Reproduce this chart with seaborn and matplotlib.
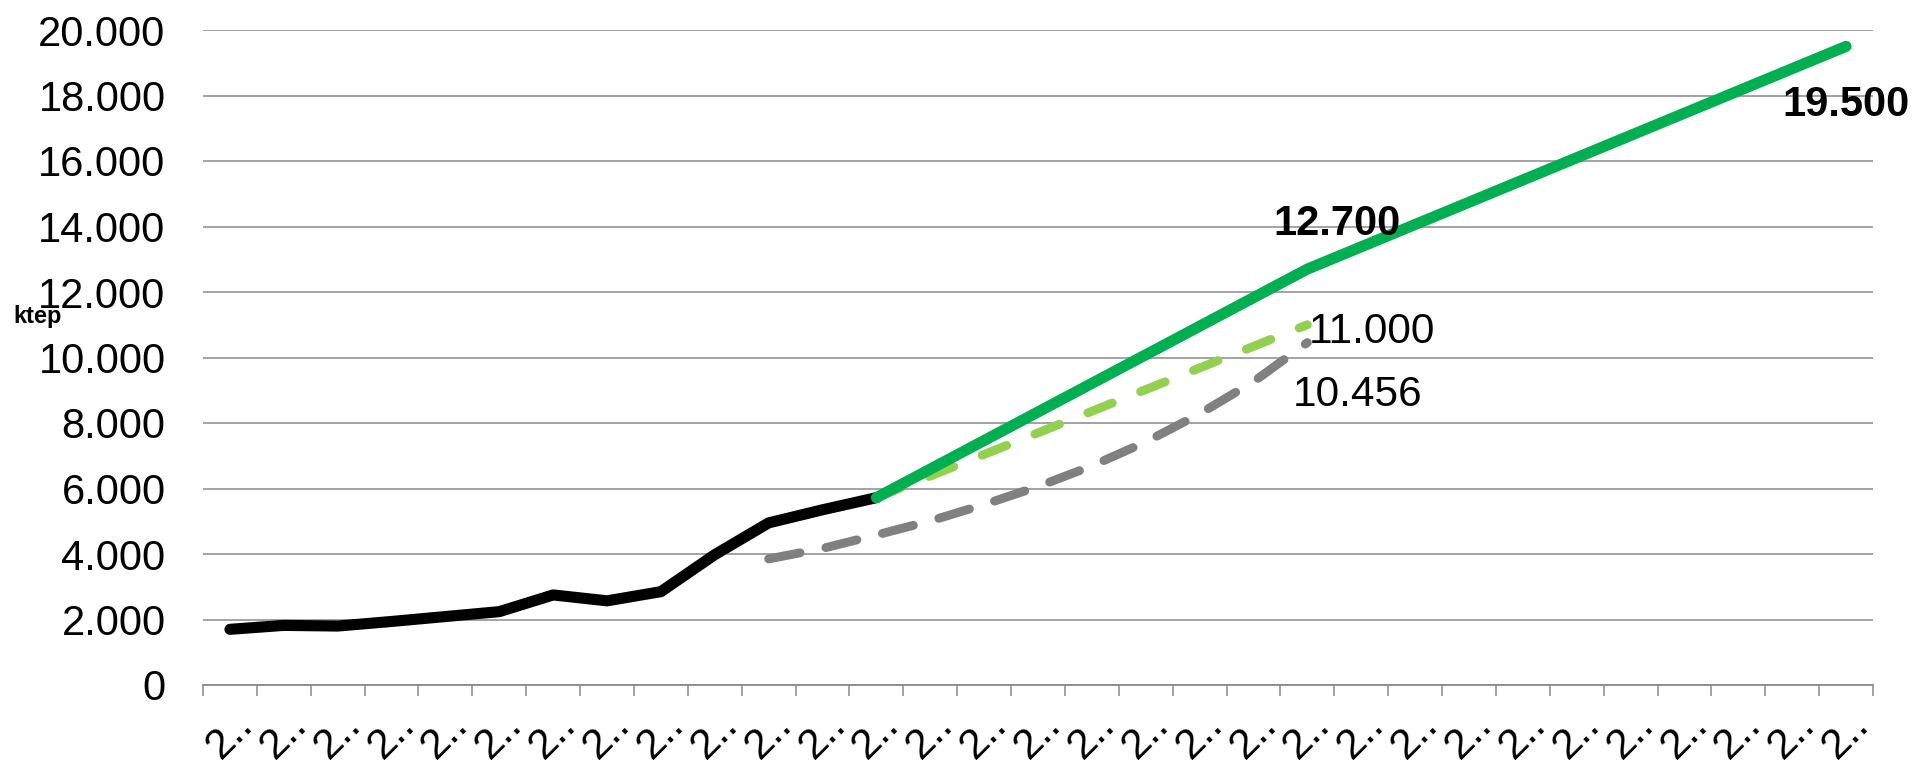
import matplotlib
matplotlib.use("Agg")
import matplotlib.pyplot as plt
from matplotlib.ticker import FuncFormatter, FixedLocator
import pandas as pd
import seaborn as sns

# ---- data (ktep) ----
years = list(range(2000, 2031))
tick_labels = ["2.."] * len(years)

hist_years = list(range(2000, 2013))
hist_values = [1700, 1820, 1800, 1940, 2090, 2240, 2750, 2570, 2850, 3980, 4950, 5350, 5720]

target_years = [2012, 2020, 2030]
target_values = [5720, 12700, 19500]

plan_years = [2012, 2020]
plan_values = [5720, 11000]

trend_years = list(range(2010, 2021))
trend_values = [3850, 4170, 4580, 5010, 5510, 6060, 6690, 7420, 8280, 9260, 10456]

# ---- style ----
sns.set_theme(style="white")
plt.rcParams["font.family"] = ["Liberation Sans", "DejaVu Sans"]
plt.rcParams["lines.scale_dashes"] = False

GRID = "#8a8a8a"
GREEN = "#00b050"
LIGHT_GREEN = "#92d050"
GRAY = "#808080"


def fmt_thousands(v):
    return f"{v:,.0f}".replace(",", ".")


fig = plt.figure(figsize=(19.14, 7.68), dpi=100)
ax = fig.add_axes([203 / 1914, 83 / 768, (1873 - 203) / 1914, 655 / 768])

trend_df = pd.DataFrame({"year": trend_years, "value": trend_values})
plan_df = pd.DataFrame({"year": plan_years, "value": plan_values})
hist_df = pd.DataFrame({"year": hist_years, "value": hist_values})
target_df = pd.DataFrame({"year": target_years, "value": target_values})

sns.lineplot(data=trend_df, x="year", y="value", ax=ax, color=GRAY, linewidth=6.4)
ln = ax.lines[-1]
ln.set_dashes((23, 19))
ln.set_dash_capstyle("round")
ln.set_dash_joinstyle("round")

sns.lineplot(data=plan_df, x="year", y="value", ax=ax, color=LIGHT_GREEN, linewidth=6.4)
ln = ax.lines[-1]
ln.set_dashes((19, 22))
ln.set_dash_capstyle("round")
ln.set_dash_joinstyle("round")

sns.lineplot(data=hist_df, x="year", y="value", ax=ax, color="black", linewidth=8)
ax.lines[-1].set_solid_capstyle("round")
ax.lines[-1].set_solid_joinstyle("round")

sns.lineplot(data=target_df, x="year", y="value", ax=ax, color=GREEN, linewidth=8)
ax.lines[-1].set_solid_capstyle("round")
ax.lines[-1].set_solid_joinstyle("round")

# ---- value labels ----
ax.annotate(fmt_thousands(target_values[1]), (target_years[1], target_values[1]),
            xytext=(21, 24.5), textcoords="offset points", ha="center", va="baseline",
            fontsize=30, fontweight="bold", color="black")
ax.annotate(fmt_thousands(target_values[2]), (target_years[2], target_values[2]),
            xytext=(0, -50), textcoords="offset points", ha="center", va="baseline",
            fontsize=30, fontweight="bold", color="black")
ax.annotate(fmt_thousands(plan_values[-1]), (plan_years[-1], plan_values[-1]),
            xytext=(1, -13.4), textcoords="offset points", ha="left", va="baseline",
            fontsize=30.5, color="black")
ax.annotate(fmt_thousands(trend_values[-1]), (trend_years[-1], trend_values[-1]),
            xytext=(-10.4, -46), textcoords="offset points", ha="left", va="baseline",
            fontsize=30.5, color="black")

# ---- axes ----
ax.set_xlim(years[0] - 0.5, years[-1] + 0.5)
ax.set_ylim(0, 20000)
ax.set_yticks(range(0, 20001, 2000))
ax.yaxis.set_major_formatter(FuncFormatter(lambda v, _: fmt_thousands(v)))
ax.tick_params(axis="y", length=0, pad=27, labelsize=30, labelcolor="black")
ax.grid(axis="y", color=GRID, linewidth=1.1)
ax.grid(axis="x", visible=False)

ax.set_xticks(years)
ax.set_xticklabels(tick_labels, rotation=45, ha="center")
ax.xaxis.set_minor_locator(FixedLocator([y - 0.5 for y in years] + [years[-1] + 0.5]))
ax.tick_params(axis="x", which="major", length=0, pad=14, labelsize=31, labelcolor="black")
ax.tick_params(axis="x", which="minor", bottom=True, length=8, width=1.1, color=GRID, direction="out")

for side in ["top", "right", "left"]:
    ax.spines[side].set_visible(False)
ax.spines["bottom"].set_color(GRID)
ax.spines["bottom"].set_linewidth(1.3)
ax.set_xlabel("")
ax.set_ylabel("")

fig.text(13 / 1914, 1 - 323 / 768, "ktep", fontsize=17, fontweight="bold",
         ha="left", va="baseline", color="black")

fig.savefig("out.png", dpi=100)
